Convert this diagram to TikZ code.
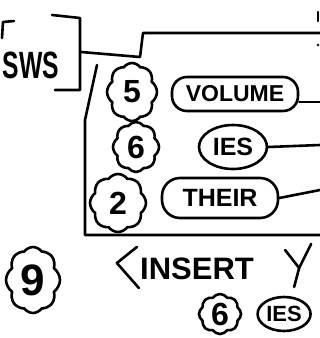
\documentclass[tikz,border=0pt]{standalone}
\usepackage{fontspec}
\setmainfont{Liberation Sans}
\newfontfamily\narrowhand[FakeStretch=0.65]{Liberation Sans}
\usetikzlibrary{shapes.symbols, shapes.geometric, positioning, calc}

\begin{document}
\begin{tikzpicture}[x=1pt, y=-1pt, line width=2.6pt, line cap=round, line join=round,
    blob/.style={cloud, cloud puffs=8, cloud puff arc=110, cloud ignores aspect, draw, inner sep=0pt, font=\bfseries\fontsize{32}{32}\selectfont},
    word/.style={rectangle, rounded corners=15pt, draw, inner xsep=4pt, minimum height=34pt, font=\bfseries\fontsize{23}{23}\selectfont},
    pill/.style={ellipse, draw, inner sep=1pt, font=\bfseries\fontsize{25}{25}\selectfont}]
    \useasboundingbox (0,0) rectangle (320,338);

    % keyword block and its bracket
    \node[font=\narrowhand\bfseries\fontsize{38}{38}\selectfont, inner sep=0pt] (sws) at (31,65) {SWS};
    \draw (14,21) -- (3,22) -- (2,38);
    \draw (52,15) -- (80,18) -- (80,90) -- (55,90);
    \coordinate (brk) at (81,52);

    % frame holding the choices
    \draw (brk) -- (140,57) -- (143,33) -- (320,33);
    \draw (97,65) -- (85,120) -- (85,235) -- (320,235);
    \draw (318,12) -- (318,21);
    \fill (318,45) circle (1.4pt);

    % choices
    \node[blob, minimum width=50pt, minimum height=58pt] (five) at (132,92) {5};
    \node[word, minimum width=126pt] (volume) at (235,94) {VOLUME};
    \node[blob, minimum width=46pt, minimum height=50pt] (six) at (136,147) {6};
    \node[pill, minimum width=68pt, minimum height=44pt] (ies) at (233,147) {IES};
    \node[blob, minimum width=56pt, minimum height=58pt] (two) at (118,203) {2};
    \node[word, minimum width=116pt, minimum height=40pt, rounded corners=18pt, font=\bfseries\fontsize{25}{25}\selectfont] (their) at (220,198) {THEIR};

    \coordinate (volume-end) at (320,102);
    \coordinate (ies-end) at (320,145);
    \coordinate (their-end) at (320,190);
    \draw (volume.east |- volume-end) -- (volume-end);
    \draw (ies.east) -- (ies-end);
    \draw (their.east) -- (their-end);

    % insert part
    \node[blob, minimum width=54pt, minimum height=66pt, font=\bfseries\fontsize{44}{44}\selectfont] (nine) at (33,280) {9};
    \node[inner sep=0pt, font=\bfseries\fontsize{31}{31}\selectfont] (insert) at (197,269) {INSERT};
    \draw (insert.west) ++(-2,-22) -- ++(-20,16) -- ++(22,25);
    \draw (insert.east) ++(30,-19) -- ++(14,18) -- ++(12,-24);
    \draw (insert.east) ++(44,-1) -- ++(-5,19);
    \node[blob, minimum width=42pt, minimum height=40pt] (sixb) at (220,314) {6};
    \node[pill, minimum width=52pt, minimum height=34pt, right=14pt of sixb, font=\bfseries\fontsize{22}{22}\selectfont] (iesb) {IES};
\end{tikzpicture}
\end{document}
